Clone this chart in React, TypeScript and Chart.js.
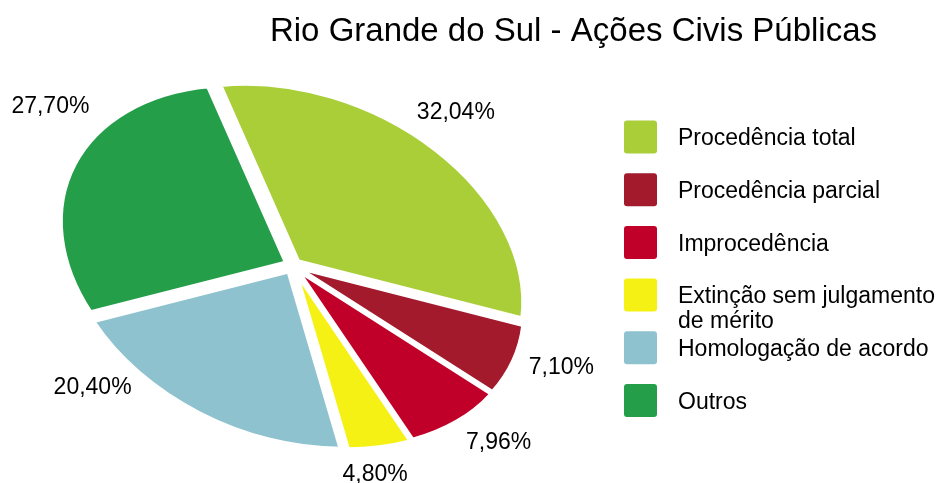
import React, { useEffect, useRef } from 'react';
import { Chart, registerables } from 'chart.js';

Chart.register(...registerables);

// ---------- data ----------
const TITLE = 'Rio Grande do Sul - Ações Civis Públicas';
const CATEGORIES = [
  'Procedência total',
  'Procedência parcial',
  'Improcedência',
  'Extinção sem julgamento de mérito',
  'Homologação de acordo',
  'Outros',
];
const VALUES = [32.04, 7.1, 7.96, 4.8, 20.4, 27.7];
const COLORS = ['#A9CE38', '#A31A2D', '#C00028', '#F6F115', '#8FC2CF', '#259E4A'];

// ---------- style ----------
const FONT = '"Liberation Sans", Arial, Helvetica, sans-serif';
const W = 941;
const H = 483;
const TILT = (22 * Math.PI) / 180; // rotation of the ellipse
const SQUASH = 0.71; // minor / major axis
const RADIUS = 234;
const EXPLODE = 7;
const START_ROTATION = 323.8; // degrees (chart.js rotation)
const PIE_CX = 292.5;
const PIE_CY = 265.5;
const LABEL_SHIFT_DEG = [-3.2, -3.5, -3.5, 4, 20.5, 11.7];
const LABEL_RADIUS = [1.285, 1.23, 1.22, 1.185, 1.278, 1.26];
const LEGEND_BOX_X = 624;
const LEGEND_FIRST_Y = 137;
const LEGEND_STEP = 52.7;
const LEGEND_BOX = 33;
const LEGEND_TEXT_X = 678;
const LEGEND_LINE_H = 25;

function toScreen(lx: number, ly: number): [number, number] {
  const sx = lx;
  const sy = ly * SQUASH;
  const c = Math.cos(TILT);
  const s = Math.sin(TILT);
  return [sx * c - sy * s, sx * s + sy * c];
}

const ellipsePiePlugin = {
  id: 'ellipsePie',
  beforeDatasetsDraw(chart: any) {
    const ctx: CanvasRenderingContext2D = chart.ctx;
    const meta = chart.getDatasetMeta(0);
    for (const arc of meta.data as any[]) {
      const { x, y, startAngle, endAngle } = arc;
      const mid = (startAngle + endAngle) / 2;
      const [dx, dy] = toScreen(Math.cos(mid), Math.sin(mid));
      const n = Math.hypot(dx, dy) || 1;
      ctx.save();
      ctx.translate(x + (dx / n) * EXPLODE, y + (dy / n) * EXPLODE);
      ctx.rotate(TILT);
      ctx.scale(1, SQUASH);
      ctx.translate(-x, -y);
      arc.draw(ctx);
      ctx.restore();
    }
    return false;
  },
  afterDraw(chart: any) {
    const ctx: CanvasRenderingContext2D = chart.ctx;
    const meta = chart.getDatasetMeta(0);
    ctx.save();
    // percentage labels
    ctx.fillStyle = '#000';
    ctx.font = `23px ${FONT}`;
    ctx.textAlign = 'center';
    ctx.textBaseline = 'middle';
    (meta.data as any[]).forEach((arc, i) => {
      const mid = (arc.startAngle + arc.endAngle) / 2 + (LABEL_SHIFT_DEG[i] * Math.PI) / 180;
      const r = arc.outerRadius * LABEL_RADIUS[i];
      const [dx, dy] = toScreen(r * Math.cos(mid), r * Math.sin(mid));
      const txt = VALUES[i].toFixed(2).replace('.', ',') + '%';
      ctx.fillText(txt, arc.x + dx, arc.y + dy);
    });

    // title
    ctx.font = `33px ${FONT}`;
    ctx.textAlign = 'center';
    ctx.textBaseline = 'alphabetic';
    ctx.fillText(TITLE, 573.5, 41);

    // legend
    ctx.font = `23px ${FONT}`;
    ctx.textAlign = 'left';
    const maxW = W - LEGEND_TEXT_X - 2;
    CATEGORIES.forEach((label, i) => {
      const cy = LEGEND_FIRST_Y + i * LEGEND_STEP;
      ctx.fillStyle = COLORS[i];
      ctx.beginPath();
      (ctx as any).roundRect(LEGEND_BOX_X, cy - LEGEND_BOX / 2, LEGEND_BOX, LEGEND_BOX, 3);
      ctx.fill();
      // word wrap
      const words = label.split(' ');
      const lines: string[] = [];
      let cur = '';
      for (const w of words) {
        const test = cur ? cur + ' ' + w : w;
        if (ctx.measureText(test).width > maxW && cur) {
          lines.push(cur);
          cur = w;
        } else cur = test;
      }
      if (cur) lines.push(cur);
      ctx.fillStyle = '#000';
      lines.forEach((ln, j) => {
        ctx.fillText(ln, LEGEND_TEXT_X, cy + 8.2 + j * LEGEND_LINE_H);
      });
    });
    ctx.restore();
  },
};

export default function App() {
  const ref = useRef<HTMLCanvasElement | null>(null);
  useEffect(() => {
    if (!ref.current) return;
    const chart = new Chart(ref.current, {
      type: 'pie',
      data: {
        labels: CATEGORIES,
        datasets: [
          {
            data: VALUES,
            backgroundColor: COLORS,
            borderColor: '#ffffff',
            borderWidth: 5,
            borderAlign: 'center',
            borderJoinStyle: 'bevel',
            radius: RADIUS,
            rotation: START_ROTATION,
          } as any,
        ],
      },
      options: {
        responsive: false,
        animation: false,
        events: [],
        layout: {
          padding: { left: 0, right: W - 2 * PIE_CX, top: 2 * PIE_CY - H, bottom: 0 },
        },
        plugins: {
          legend: { display: false },
          title: { display: false },
          tooltip: { enabled: false },
        },
      },
      plugins: [ellipsePiePlugin],
    });
    return () => chart.destroy();
  }, []);
  return (
    <div style={{ position: 'absolute', left: 0, top: 0, width: W, height: H, background: '#fff' }}>
      <canvas ref={ref} width={W} height={H} style={{ width: W, height: H, display: 'block' }} />
    </div>
  );
}
